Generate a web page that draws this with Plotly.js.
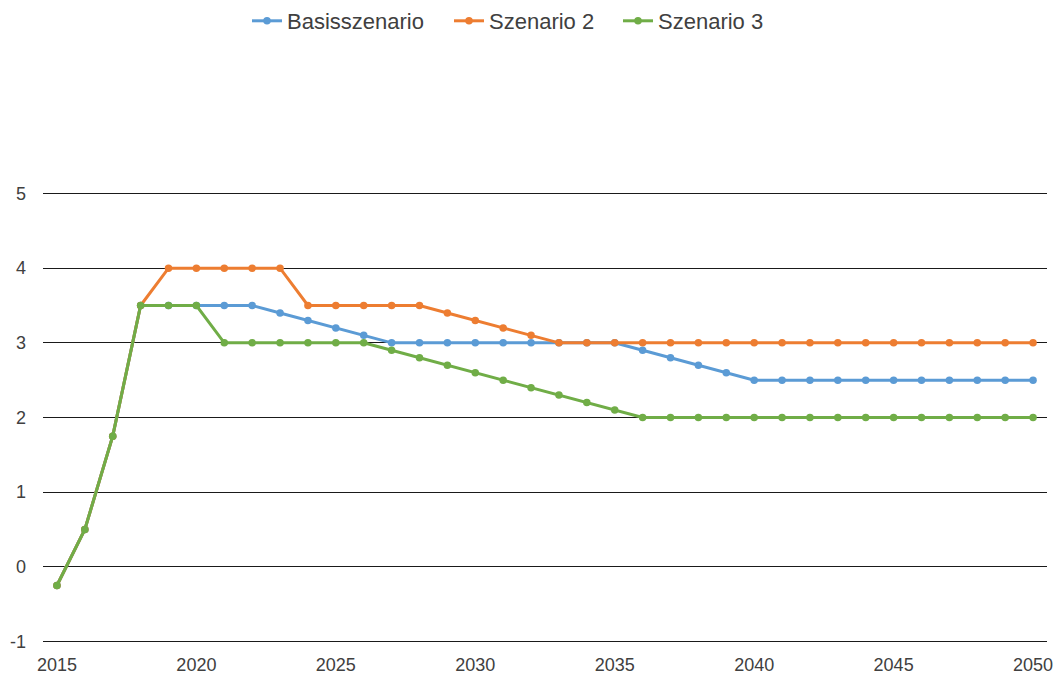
<!DOCTYPE html>
<html>
<head>
<meta charset="utf-8">
<script src="https://cdn.plot.ly/plotly-3.0.1.min.js"></script>
<style>html,body{margin:0;padding:0;background:#fff;}#chart{width:1059px;height:675px;}</style>
</head>
<body>
<div id="chart"></div>
<script>
const years = [];
for (let y = 2015; y <= 2050; y++) years.push(y);

const basisszenario = [-0.25, 0.5, 1.75, 3.5, 3.5, 3.5, 3.5, 3.5, 3.4, 3.3, 3.2, 3.1, 3.0, 3.0, 3.0, 3.0, 3.0, 3.0, 3.0, 3.0, 3.0, 2.9, 2.8, 2.7, 2.6, 2.5, 2.5, 2.5, 2.5, 2.5, 2.5, 2.5, 2.5, 2.5, 2.5, 2.5];
const szenario2 = [-0.25, 0.5, 1.75, 3.5, 4.0, 4.0, 4.0, 4.0, 4.0, 3.5, 3.5, 3.5, 3.5, 3.5, 3.4, 3.3, 3.2, 3.1, 3.0, 3.0, 3.0, 3.0, 3.0, 3.0, 3.0, 3.0, 3.0, 3.0, 3.0, 3.0, 3.0, 3.0, 3.0, 3.0, 3.0, 3.0];
const szenario3 = [-0.25, 0.5, 1.75, 3.5, 3.5, 3.5, 3.0, 3.0, 3.0, 3.0, 3.0, 3.0, 2.9, 2.8, 2.7, 2.6, 2.5, 2.4, 2.3, 2.2, 2.1, 2.0, 2.0, 2.0, 2.0, 2.0, 2.0, 2.0, 2.0, 2.0, 2.0, 2.0, 2.0, 2.0, 2.0, 2.0];

const seriesNames = ['Basisszenario', 'Szenario 2', 'Szenario 3'];
const seriesValues = [basisszenario, szenario2, szenario3];
const colors = ['#5B9BD5', '#ED7D31', '#70AD47'];

const xTickVals = [2015, 2020, 2025, 2030, 2035, 2040, 2045, 2050];
const xTickText = ['2015', '2020', '2025', '2030', '2035', '2040', '2045', '2050'];
const yTickVals = [-1, 0, 1, 2, 3, 4, 5];
const yTickText = ['-1', '0', '1', '2', '3', '4', '5'];

const legendIds = ['legend', 'legend2', 'legend3'];
const legendLeftPx = [247, 449, 618];

const traces = seriesNames.map((n, i) => ({
  type: 'scatter',
  mode: 'lines+markers',
  name: n,
  x: years,
  y: seriesValues[i],
  legend: legendIds[i],
  line: {color: colors[i], width: 3},
  marker: {color: colors[i], size: 7.5}
}));

const ML = 43, MR = 12, W = 1059;
const plotW = W - ML - MR;

const layout = {
  width: W,
  height: 675,
  margin: {l: ML, r: MR, t: 192, b: 32},
  paper_bgcolor: '#ffffff',
  plot_bgcolor: '#ffffff',
  font: {family: 'Liberation Sans, Arial, sans-serif', size: 18, color: '#404040'},
  showlegend: true,
  xaxis: {
    range: [2014.5, 2050.5],
    tickmode: 'array',
    tickvals: xTickVals,
    ticktext: xTickText,
    showgrid: false,
    zeroline: false,
    showline: false,
    ticks: '',
    ticklabelstandoff: 9
  },
  yaxis: {
    range: [-1.02, 5.02],
    tickmode: 'array',
    tickvals: yTickVals,
    ticktext: yTickText,
    showgrid: true,
    gridcolor: '#1a1a1a',
    gridwidth: 1,
    zeroline: false,
    showline: false,
    ticks: '',
    ticklabelstandoff: 16
  }
};

legendIds.forEach((id, i) => {
  layout[id] = {
    orientation: 'h',
    x: (legendLeftPx[i] - ML) / plotW, xanchor: 'left',
    y: 1, yref: 'container', yanchor: 'top',
    font: {size: 22, color: '#404040'},
    itemwidth: 30,
    bgcolor: 'rgba(0,0,0,0)'
  };
});

Plotly.newPlot('chart', traces, layout, {displayModeBar: false, staticPlot: true});
</script>
</body>
</html>
